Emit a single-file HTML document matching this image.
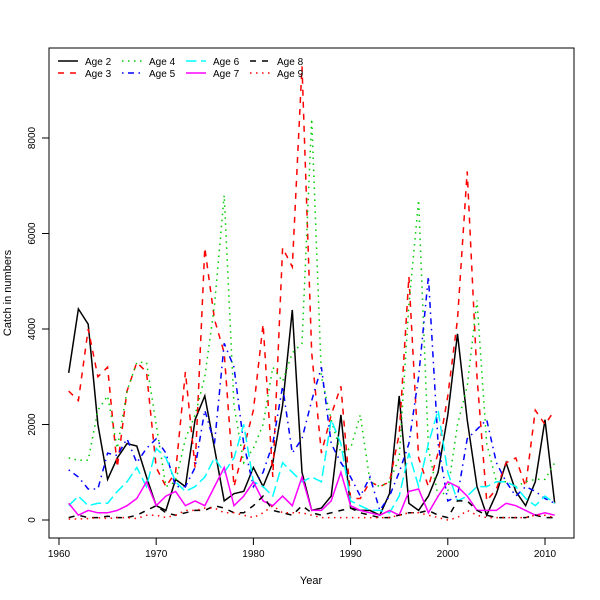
<!DOCTYPE html>
<html><head><meta charset="utf-8"><style>
body{margin:0;background:#fff}
svg{display:block;font-family:"Liberation Sans",sans-serif}
</style></head><body>
<svg id="chart" width="600" height="600">
<rect x="49" y="48" width="525" height="490" fill="none" stroke="#000"/>
<g id="axes"></g>
<g id="series"></g>
<text x="311" y="584" font-size="11" text-anchor="middle">Year</text>
<text transform="translate(11,293) rotate(-90)" font-size="11" text-anchor="middle">Catch in numbers</text>
<g id="legend"></g>
</svg>
<script>
const startYear = 1961;
const seriesNames = ["Age 2","Age 3","Age 4","Age 5","Age 6","Age 7","Age 8","Age 9"];
const age2 = [3080,4420,4100,2000,850,1300,1600,1550,900,300,200,850,700,2100,2600,1500,400,550,600,1100,700,1200,2400,4400,1000,200,250,500,2200,250,200,200,100,550,2600,350,200,500,1000,2200,3900,2100,700,100,550,1200,600,300,800,2100,350];
const age3 = [2700,2500,4000,3000,3200,1100,2700,3300,3100,1100,700,1000,3100,1100,5700,4200,3500,700,1500,2300,4100,900,5700,5300,9500,3500,1400,2200,2800,450,450,800,700,800,1800,5100,1300,700,1400,2600,4200,7300,3000,400,650,1200,1300,700,2300,2000,2300];
const age4 = [1300,1250,1250,2300,2600,1500,2700,3300,3300,2000,700,800,1700,2200,3000,4500,6800,2400,1200,1500,2000,3200,2900,3500,3700,8400,3000,2100,1400,1500,2200,800,700,800,1300,4500,6700,1500,500,600,2000,2800,4600,1600,800,800,700,800,850,850,1200];
const age5 = [1050,900,650,650,1400,1350,1700,1200,1500,1700,1400,700,700,1100,2300,1600,3700,3200,1600,700,1000,1600,2800,1400,1700,2500,3200,1600,1200,900,500,900,200,500,1000,1600,3000,5100,1600,400,500,1700,1900,2100,1200,800,500,700,600,450,350];
const age6 = [300,500,300,350,350,600,800,1100,700,1500,1300,800,600,700,900,1300,1000,1300,2000,800,700,500,1200,1000,800,900,800,2100,1600,400,300,200,200,150,500,1400,700,1600,2300,1000,400,500,700,700,800,800,700,450,300,500,350];
const age7 = [350,100,200,150,150,200,300,450,800,300,500,600,300,400,300,700,1100,300,500,800,400,300,500,300,900,200,200,400,1000,300,200,150,100,200,100,600,650,150,500,800,700,500,200,200,200,350,300,200,100,150,100];
const age8 = [50,100,50,50,80,50,50,100,200,300,150,100,150,200,200,300,250,150,150,300,500,200,150,100,300,150,100,150,200,250,150,100,50,50,100,150,150,200,100,50,400,400,200,100,50,50,50,50,100,50,50];
const age9 = [20,20,30,50,30,50,50,30,100,100,50,100,200,200,250,250,150,150,100,50,150,300,150,150,150,100,50,50,50,50,50,50,50,50,100,150,150,100,50,0,50,200,100,50,50,50,50,50,100,100,50];
const xTicks = [1960,1970,1980,1990,2000,2010];
const yTicks = [0,2000,4000,6000,8000];

const NS="http://www.w3.org/2000/svg";
const xScale = y => 59 + (y-1960)*9.72;
const yScale = v => 520 - v*0.04775;
const allSeries=[age2,age3,age4,age5,age6,age7,age8,age9];
const colors=["#000","#ff0000","#00cd00","#0000ff","#00ffff","#ff00ff","#000","#ff0000"];
const dashes=["","6,6","1.5,4.5","1.5,4.5,6,4.5","10.5,4.5","","6,6","1.5,4.5"];
const axes=document.getElementById('axes');
function mk(tag,attrs,parent){const e=document.createElementNS(NS,tag);for(const k in attrs)e.setAttribute(k,attrs[k]);parent.appendChild(e);return e;}
xTicks.forEach(t=>{
  const x=xScale(t);
  const l=mk('line',{x1:x,x2:x,y1:538,y2:545,stroke:'#000'},axes);
  
  
  const tx=mk('text',{x:x,y:557,'font-size':10,'text-anchor':'middle'},axes);
  tx.textContent=t;
  
  
});
mk('line',{x1:xScale(1960),x2:xScale(2010),y1:538,y2:538,stroke:'#000'},axes);
yTicks.forEach(t=>{
  const y=yScale(t);
  const l=mk('line',{x1:42,x2:49,y1:y,y2:y,stroke:'#000'},axes);
  
  
  const tx=mk('text',{'font-size':10,'text-anchor':'middle',transform:`translate(35,${y}) rotate(-90)`},axes);
  tx.textContent=t;
  
  
});
const sg=document.getElementById('series');
allSeries.forEach((arr,i)=>{
  const pts=arr.map((v,j)=>xScale(startYear+j).toFixed(1)+','+yScale(v).toFixed(1)).join(' ');
  const p=mk('polyline',{points:pts,fill:'none',stroke:colors[i],'stroke-width':1.5,'stroke-dasharray':dashes[i]},sg);
  
  
});
const lg=document.getElementById('legend');
seriesNames.forEach((n,i)=>{
  const col=Math.floor(i/2), row=i%2;
  const x0=58+col*64, y0=61+row*12;
  const l=mk('line',{x1:x0,x2:x0+20,y1:y0,y2:y0,stroke:colors[i],'stroke-width':1.5,'stroke-dasharray':dashes[i]},lg);
  
  
  const t=mk('text',{x:x0+27,y:y0+4,'font-size':10},lg);
  t.textContent=n;
  
  
});
</script>
</body></html>
